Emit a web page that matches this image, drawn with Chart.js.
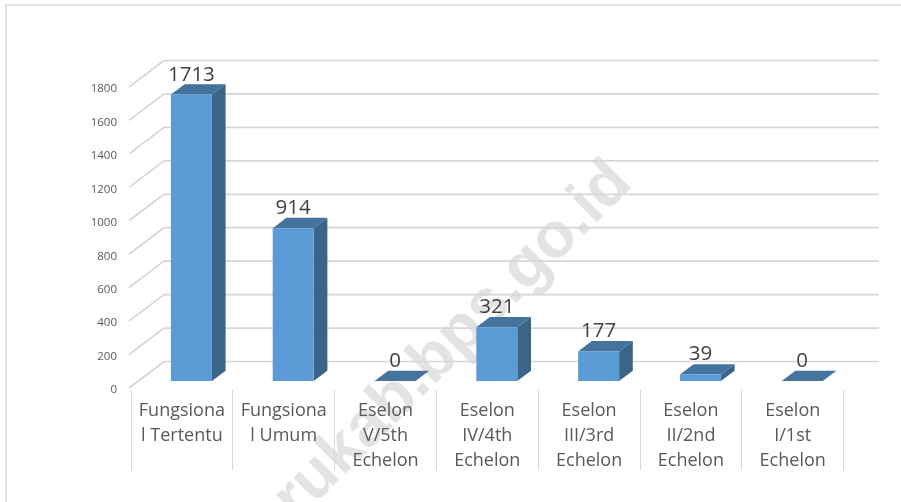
<!DOCTYPE html>
<html>
<head>
<meta charset="utf-8">
<script src="https://cdn.jsdelivr.net/npm/chart.js@4"></script>
<style>html,body{margin:0;padding:0;background:#fff}canvas{display:block}</style>
</head>
<body>
<canvas id="c" width="901" height="502"></canvas>
<script>
const categories = [
  ["Fungsiona","l Tertentu"],
  ["Fungsiona","l Umum"],
  ["Eselon","V/5th","Echelon"],
  ["Eselon","IV/4th","Echelon"],
  ["Eselon","III/3rd","Echelon"],
  ["Eselon","II/2nd","Echelon"],
  ["Eselon","I/1st","Echelon"]
];
const values = [1713, 914, 0, 321, 177, 39, 0];
const yMax = 1800;
const yStep = 200;
const watermark = "rukab.bps.go.id";

const FONT = '"Open Sans", sans-serif';
const SHIFT = {x: 9.5, y: -9};     // bar plane offset from the axis plane
const DEPTH = {x: 13.7, y: -10.3}; // bar extrusion
const WALL = {x: 33, y: -28.5};    // back wall offset

const pseudo3d = {
  id: 'pseudo3d',
  beforeDraw(chart) {
    const c = chart.ctx;
    c.save();
    c.fillStyle = '#fff';
    c.fillRect(0, 0, chart.width, chart.height);
    c.strokeStyle = '#e2e2e2';
    c.lineWidth = 2;
    c.beginPath();
    c.moveTo(6, chart.height);
    c.lineTo(6, 5);
    c.lineTo(chart.width, 5);
    c.stroke();
    c.translate(297, 522);
    c.rotate(-Math.PI / 4);
    c.fillStyle = '#e3e3e3';
    c.font = 'bold 64px "Liberation Sans", sans-serif';
    c.textAlign = 'left';
    c.textBaseline = 'alphabetic';
    c.fillText(watermark, 0, 0);
    c.restore();
  },
  beforeDatasetsDraw(chart) {
    const c = chart.ctx, y = chart.scales.y, a = chart.chartArea;
    c.save();
    c.strokeStyle = '#d6d6d6';
    c.lineWidth = 1.7;
    y.ticks.forEach(t => {
      const p = y.getPixelForValue(t.value);
      c.beginPath();
      c.moveTo(a.left - 2, p - 2);
      c.lineTo(a.left + WALL.x, p + WALL.y);
      c.lineTo(879, p + WALL.y);
      c.stroke();
    });
    c.restore();
  },
  beforeDatasetDraw(chart) {
    const c = chart.ctx;
    c.save();
    c.translate(SHIFT.x, SHIFT.y);
    chart.getDatasetMeta(0).data.forEach(b => {
      const l = b.x - b.width / 2, r = b.x + b.width / 2;
      c.fillStyle = '#3a6589';
      c.beginPath();
      c.moveTo(r, b.y); c.lineTo(r + DEPTH.x, b.y + DEPTH.y);
      c.lineTo(r + DEPTH.x, b.base + DEPTH.y); c.lineTo(r, b.base);
      c.closePath(); c.fill();
      c.fillStyle = '#44739e';
      c.beginPath();
      c.moveTo(l, b.y); c.lineTo(r, b.y);
      c.lineTo(r + DEPTH.x, b.y + DEPTH.y); c.lineTo(l + DEPTH.x, b.y + DEPTH.y);
      c.closePath(); c.fill();
    });
  },
  afterDatasetDraw(chart) {
    chart.ctx.restore();
  },
  afterDatasetsDraw(chart) {
    const c = chart.ctx;
    c.save();
    c.fillStyle = '#404040';
    c.font = '20.5px ' + FONT;
    c.textAlign = 'center';
    c.textBaseline = 'alphabetic';
    chart.getDatasetMeta(0).data.forEach((b, i) => {
      c.fillText(String(values[i]), b.x + SHIFT.x, b.y + SHIFT.y - 14);
    });
    c.restore();
  }
};

new Chart(document.getElementById('c'), {
  type: 'bar',
  data: {
    labels: categories,
    datasets: [{
      data: values,
      backgroundColor: '#5b9bd5',
      borderWidth: 0,
      barPercentage: 0.4027,
      categoryPercentage: 1
    }]
  },
  plugins: [pseudo3d],
  options: {
    responsive: false,
    animation: false,
    layout: {padding: {left: 0, top: 89, right: 57.4, bottom: 0}},
    plugins: {legend: {display: false}, tooltip: {enabled: false}},
    scales: {
      x: {
        afterFit(s) { s.height = 112; },
        grid: {drawOnChartArea: false, drawTicks: true, tickLength: 80, color: '#d9d9d9', lineWidth: 1},
        border: {display: false},
        ticks: {
          autoSkip: false, maxRotation: 0, minRotation: 0, padding: -72,
          color: '#595959',
          font: {family: FONT, size: 18, lineHeight: '25px'}
        }
      },
      y: {
        min: 0, max: yMax,
        afterFit(s) { s.width = 131; },
        grid: {display: false},
        border: {display: false},
        ticks: {
          stepSize: yStep, padding: 6,
          color: '#595959',
          font: {family: FONT, size: 11.5},
          callback: v => String(v)
        }
      }
    }
  }
});
</script>
</body>
</html>
